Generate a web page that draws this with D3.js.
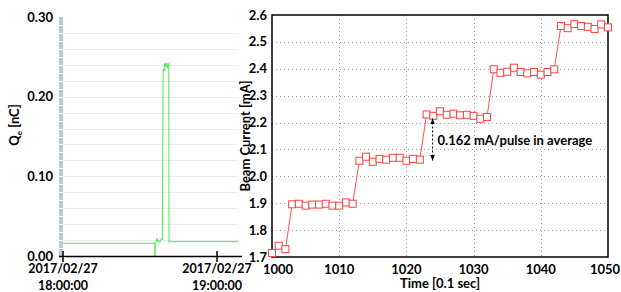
<!DOCTYPE html>
<html>
<head>
<meta charset="utf-8">
<script src="https://cdn.jsdelivr.net/npm/d3@7"></script>
<style>
  body { margin: 0; background: #fff; }
  svg { display: block; font-family: Lato, "Open Sans", sans-serif; font-weight: bold; }
</style>
</head>
<body>
<div id="chart"></div>
<script>
// Left panel: charge trace (minutes after 18:00, nC)
const qMinutes = [0, 35.8, 35.8, 35.9, 36.3, 36.6, 36.9, 37.3, 37.7, 38.1, 38.4, 38.7, 39.0, 39.1, 39.4, 39.6, 40.0, 40.3, 40.6, 41.0, 41.2, 41.3, 41.6, 42.0, 68.2];
const qValues  = [0.016, 0.016, 0.0, 0.016, 0.018, 0.022, 0.018, 0.020, 0.017, 0.021, 0.022, 0.020, 0.225, 0.235, 0.232, 0.242, 0.238, 0.242, 0.236, 0.242, 0.240, 0.017, 0.019, 0.018, 0.018];
const qTicks = [0, 0.1, 0.2, 0.3];
const timeTicks = ["2017-02-27T18:00:00", "2017-02-27T19:00:00"];

// Right panel: beam current per shot
const shotTimes = d3.range(1000, 1051);
const beamCurrent = [
  1.715, 1.742, 1.729, 1.896, 1.898, 1.891, 1.895, 1.895, 1.898, 1.891,
  1.891, 1.903, 1.898, 2.058, 2.073, 2.054, 2.065, 2.062, 2.069, 2.069,
  2.058, 2.065, 2.062, 2.230, 2.225, 2.242, 2.229, 2.233, 2.227, 2.229,
  2.225, 2.214, 2.221, 2.398, 2.385, 2.389, 2.404, 2.388, 2.383, 2.388,
  2.378, 2.388, 2.398, 2.559, 2.551, 2.567, 2.559, 2.556, 2.548, 2.565,
  2.554
];
const currentTicks = [1.7, 1.8, 1.9, 2.0, 2.1, 2.2, 2.3, 2.4, 2.5, 2.6];
const shotTicks = [1000, 1010, 1020, 1030, 1040, 1050];
const annotation = "0.162 mA/pulse in average";

const svg = d3.select("#chart").append("svg")
  .attr("width", 621).attr("height", 292);

// ---------- left panel ----------
const t0 = new Date("2017-02-27T18:00:00");
const toDate = m => new Date(t0.getTime() + m * 60000);

const xL = d3.scaleTime()
  .domain([t0, toDate(60 * (238 - 63) / 154)])
  .range([63, 238]);
const yL = d3.scaleLinear().domain([0, 0.3]).range([256, 17]);

// faint grid
svg.append("g")
  .selectAll("line")
  .data(d3.range(1, 15).map(i => i * 0.02))
  .join("line")
  .attr("x1", 63).attr("x2", 238)
  .attr("y1", d => Math.round(yL(d)) + 0.5).attr("y2", d => Math.round(yL(d)) + 0.5)
  .attr("stroke", "#ebebeb").attr("stroke-width", 1);

// blue-gray band on the value axis
svg.append("rect")
  .attr("x", 59).attr("y", 17).attr("width", 4).attr("height", 239)
  .attr("fill", "#b8c9db");
svg.append("g")
  .selectAll("line")
  .data(d3.range(1, 30).map(i => i * 0.01))
  .join("line")
  .attr("x1", 59).attr("x2", 63)
  .attr("y1", d => Math.round(yL(d)) + 0.5).attr("y2", d => Math.round(yL(d)) + 0.5)
  .attr("stroke", "#fff").attr("stroke-width", 1);

// trace
const qLine = d3.line()
  .x((d, i) => xL(toDate(qMinutes[i])))
  .y(d => yL(d));
svg.append("path")
  .datum(qValues)
  .attr("d", qLine)
  .attr("fill", "none")
  .attr("stroke", "#44f044")
  .attr("stroke-width", 1);

// y tick labels
svg.append("g")
  .selectAll("text")
  .data(qTicks)
  .join("text")
  .attr("x", 53).attr("y", d => yL(d))
  .attr("dy", "0.35em")
  .attr("text-anchor", "end")
  .style("font-size", "13px")
  .text(d => d3.format(".2f")(d));

// x axis line and ticks
svg.append("line")
  .attr("x1", 59).attr("x2", 242).attr("y1", 256.5).attr("y2", 256.5)
  .attr("stroke", "#000").attr("stroke-width", 1.5);
const tickG = svg.append("g")
  .selectAll("g")
  .data(timeTicks.map(s => new Date(s)))
  .join("g")
  .attr("transform", d => `translate(${xL(d)},0)`);
tickG.append("line")
  .attr("y1", 251).attr("y2", 262)
  .attr("stroke", "#000").attr("stroke-width", 1.5);
tickG.append("text")
  .attr("y", 273).attr("text-anchor", "middle")
  .style("font-size", "12.5px")
  .text(d => d3.timeFormat("%Y/%m/%d")(d));
tickG.append("text")
  .attr("y", 290).attr("text-anchor", "middle")
  .style("font-size", "12.5px")
  .text(d => d3.timeFormat("%H:%M:%S")(d));

// y label Q_e [nC]
const qLabel = svg.append("text")
  .attr("transform", "translate(19,125) rotate(-90)")
  .attr("text-anchor", "middle")
  .style("font-size", "13px");
qLabel.append("tspan").text("Q");
qLabel.append("tspan").attr("dy", 3).style("font-size", "8px").text("e");
qLabel.append("tspan").attr("dy", -3).text(" [nC]");

// ---------- right panel ----------
const x = d3.scaleLinear().domain([1000, 1050]).range([272, 608]);
const y = d3.scaleLinear().domain([1.7, 2.6]).range([257, 15]);

// dotted grid
svg.append("g")
  .selectAll("line")
  .data(currentTicks.slice(1, -1))
  .join("line")
  .attr("x1", 272).attr("x2", 608)
  .attr("y1", d => Math.round(y(d)) + 0.5).attr("y2", d => Math.round(y(d)) + 0.5)
  .attr("stroke", "#999").attr("stroke-dasharray", "1,3");
svg.append("g")
  .selectAll("line")
  .data(shotTicks.slice(1, -1))
  .join("line")
  .attr("x1", d => Math.round(x(d)) + 0.5).attr("x2", d => Math.round(x(d)) + 0.5)
  .attr("y1", 15).attr("y2", 257)
  .attr("stroke", "#999").attr("stroke-dasharray", "1,3");

// frame
svg.append("rect")
  .attr("x", 272).attr("y", 15).attr("width", 336).attr("height", 242)
  .attr("fill", "none").attr("stroke", "#000").attr("stroke-width", 1.5);

// axes labels
svg.append("g")
  .selectAll("text")
  .data(currentTicks)
  .join("text")
  .attr("x", 267).attr("y", d => y(d))
  .attr("dy", "0.35em")
  .attr("text-anchor", "end")
  .style("font-size", "13px")
  .text(d => d3.format(".1f")(d));
svg.append("g")
  .selectAll("text")
  .data(shotTicks)
  .join("text")
  .attr("x", d => x(d) + (d === 1000 ? 6 : d === 1050 ? -3 : 0)).attr("y", 274)
  .attr("text-anchor", "middle")
  .style("font-size", "13px")
  .text(d => d);

svg.append("text")
  .attr("x", 440).attr("y", 288)
  .attr("text-anchor", "middle")
  .style("font-size", "13px")
  .text("Time [0.1 sec]");
svg.append("text")
  .attr("transform", "translate(250,136) rotate(-90)")
  .attr("text-anchor", "middle")
  .style("font-size", "13px")
  .text("Beam Current [mA]");

// data line and markers
const line = d3.line()
  .x((d, i) => x(shotTimes[i]))
  .y(d => y(d));
svg.append("path")
  .datum(beamCurrent)
  .attr("d", line)
  .attr("fill", "none")
  .attr("stroke", "#ff5050")
  .attr("stroke-width", 1);
svg.append("g")
  .selectAll("rect")
  .data(beamCurrent)
  .join("rect")
  .attr("x", (d, i) => x(shotTimes[i]) - 3.5)
  .attr("y", d => y(d) - 3.5)
  .attr("width", 7).attr("height", 7)
  .attr("fill", "#fff")
  .attr("stroke", "#ff4040")
  .attr("stroke-width", 1);

// annotation arrow
svg.append("defs").append("marker")
  .attr("id", "ah")
  .attr("viewBox", "0 0 10 10")
  .attr("refX", 10).attr("refY", 5)
  .attr("markerWidth", 6).attr("markerHeight", 6)
  .attr("orient", "auto-start-reverse")
  .append("path").attr("d", "M0,1 L10,5 L0,9 Z").attr("fill", "#000");
const ax = x(1023) + 6;
svg.append("line")
  .attr("x1", ax).attr("x2", ax)
  .attr("y1", y(beamCurrent[23]) + 4).attr("y2", y(beamCurrent[22]) + 1)
  .attr("stroke", "#000").attr("stroke-width", 1)
  .attr("stroke-dasharray", "2,2")
  .attr("marker-start", "url(#ah)")
  .attr("marker-end", "url(#ah)");
svg.append("text")
  .attr("x", ax + 5).attr("y", 145)
  .style("font-size", "13px")
  .text(annotation);
</script>
</body>
</html>
